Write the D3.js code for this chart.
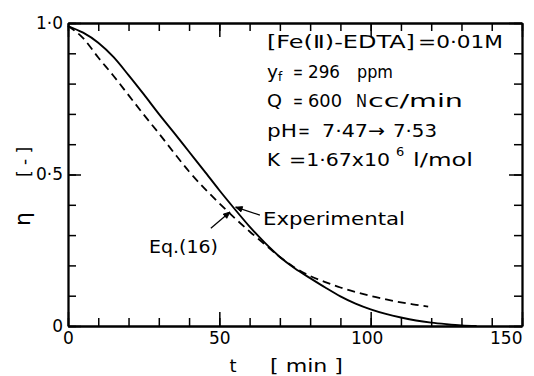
<!DOCTYPE html>
<html>
<head>
<meta charset="utf-8">
<script src="https://cdn.jsdelivr.net/npm/d3@7"></script>
<style>
  html, body { margin: 0; padding: 0; background: #fff; }
  svg { display: block; }
  text { font-family: "DejaVu Sans", sans-serif; fill: #000; }
</style>
</head>
<body>
<svg id="chart" width="534" height="376"></svg>
<script>
// Time axis [min] for the measured curve and for Eq.(16)
const expTime = [0, 5, 10, 15, 20, 25, 30, 35, 40, 45, 50, 55, 60, 65, 70, 75, 80, 85, 90, 95, 100, 105, 110, 115, 120, 125, 130, 135];
const expEta  = [0.99, 0.968, 0.935, 0.888, 0.828, 0.765, 0.70, 0.638, 0.575, 0.512, 0.448, 0.387, 0.328, 0.275, 0.228, 0.19, 0.158, 0.127, 0.098, 0.074, 0.055, 0.04, 0.028, 0.018, 0.011, 0.006, 0.002, 0.0];

const eqTime = [0, 5, 10, 15, 20, 25, 30, 35, 40, 45, 50, 55, 60, 65, 70, 75, 80, 85, 90, 95, 100, 105, 110, 115, 119];
const eqEta  = [0.99, 0.95, 0.886, 0.826, 0.762, 0.698, 0.636, 0.572, 0.51, 0.455, 0.405, 0.357, 0.312, 0.27, 0.228, 0.192, 0.165, 0.145, 0.127, 0.112, 0.099, 0.088, 0.078, 0.07, 0.064];

// Tick values and labels
const xMajor = [0, 50, 100, 150];
const xMinor = d3.range(0, 151, 10);
const yMajor = [0, 0.5, 1.0];
const yMinor = d3.range(0, 1.001, 0.1);
const yLabels = {0: "0", 0.5: "0·5", 1: "1·0"};

// Conditions printed in the upper right
const conditions = [
  [["[Fe(Ⅱ)-EDTA]", 267, 148], ["=0·01M", 418, 85]],
  [["y", 267, 11], ["f", 278, 6, "sub"], ["=", 293, 10], ["296", 308, 32], ["ppm", 357, 36]],
  [["Q", 267, 15], ["=", 293, 10], ["600", 308, 34], ["N", 356, 11], ["cc/min", 368, 95]],
  [["pH", 267, 30], ["=", 298, 12], ["7·47", 322, 46], ["→", 368, 17], ["7·53", 393, 44]],
  [["K", 267, 13], ["=1·67x10", 289, 101], ["6", 396, 10, "sup"], ["l/mol", 413, 60]]
];
const conditionBaselines = [48, 78, 107, 137, 166];

const svg = d3.select("#chart");
const x = d3.scaleLinear().domain([0, 150]).range([68, 522]);
const y = d3.scaleLinear().domain([0, 1]).range([326, 23]);

const frame = svg.append("g");

// Minor ticks on all four sides, pointing inward
function minorAxis(axisFn, scale, vals, size, transform) {
  frame.append("g").attr("transform", transform)
    .call(axisFn(scale).tickValues(vals).tickSizeInner(size).tickSizeOuter(0).tickFormat(""));
}
minorAxis(d3.axisBottom, x, xMinor, -8, `translate(0,${y(0)})`);
minorAxis(d3.axisTop, x, xMinor, -8, `translate(0,${y(1)})`);
minorAxis(d3.axisLeft, y, yMinor, -8, `translate(${x(0)},0)`);
minorAxis(d3.axisRight, y, yMinor, -8, `translate(${x(150)},0)`);

// Major ticks with labels
frame.append("g").attr("class", "xmaj").attr("transform", `translate(0,${y(0)})`)
  .call(d3.axisBottom(x).tickValues(xMajor).tickSizeInner(-14).tickSizeOuter(0).tickPadding(6).tickFormat(d3.format("d")));
frame.append("g").attr("transform", `translate(0,${y(1)})`)
  .call(d3.axisTop(x).tickValues(xMajor).tickSizeInner(-14).tickSizeOuter(0).tickFormat(""));
frame.append("g").attr("class", "ymaj").attr("transform", `translate(${x(0)},0)`)
  .call(d3.axisLeft(y).tickValues(yMajor).tickSizeInner(-13).tickSizeOuter(0).tickPadding(5).tickFormat(d => yLabels[d]));
frame.append("g").attr("transform", `translate(${x(150)},0)`)
  .call(d3.axisRight(y).tickValues(yMajor).tickSizeInner(-13).tickSizeOuter(0).tickFormat(""));

frame.selectAll(".domain").attr("stroke", "#000").attr("stroke-width", 1.8);
frame.selectAll(".tick line").attr("stroke", "#000").attr("stroke-width", 1.5);
frame.selectAll(".tick text").attr("font-family", "DejaVu Sans").attr("font-size", 17).attr("fill", "#000");
// keep the last x label inside the page, ending at the frame corner
frame.selectAll(".xmaj .tick text")
  .attr("text-anchor", d => d === 150 ? "end" : "middle")
  .attr("dx", d => d === 100 ? -4 : 0);

// Curves
const line = d3.line().x(d => x(d[0])).y(d => y(d[1])).curve(d3.curveMonotoneX);
svg.append("path")
  .datum(expTime.map((t, i) => [t, expEta[i]]))
  .attr("d", line).attr("fill", "none").attr("stroke", "#000").attr("stroke-width", 1.9);
svg.append("path")
  .datum(eqTime.map((t, i) => [t, eqEta[i]]))
  .attr("d", line).attr("fill", "none").attr("stroke", "#000").attr("stroke-width", 1.8)
  .attr("stroke-dasharray", "8,5");

// Annotation arrows (data units)
const arrows = [
  { tail: [63.4, 0.366], tip: [55.4, 0.392] },
  { tail: [47.2, 0.323], tip: [53.5, 0.376] }
];
arrows.forEach(a => {
  const x0 = x(a.tail[0]), y0 = y(a.tail[1]), x1 = x(a.tip[0]), y1 = y(a.tip[1]);
  const ang = Math.atan2(y1 - y0, x1 - x0), L = 7, spread = 0.4;
  svg.append("line").attr("x1", x0).attr("y1", y0).attr("x2", x1).attr("y2", y1)
    .attr("stroke", "#000").attr("stroke-width", 1.3);
  svg.append("path")
    .attr("d", `M${x1 - L * Math.cos(ang - spread)},${y1 - L * Math.sin(ang - spread)}L${x1},${y1}L${x1 - L * Math.cos(ang + spread)},${y1 - L * Math.sin(ang + spread)}Z`)
    .attr("fill", "#000").attr("stroke", "#000").attr("stroke-width", 1);
});

svg.append("text").attr("x", 263).attr("y", 225).attr("font-size", 18)
  .attr("textLength", 142).attr("lengthAdjust", "spacingAndGlyphs").text("Experimental");
svg.append("text").attr("x", 149).attr("y", 253).attr("font-size", 18)
  .attr("textLength", 69).attr("lengthAdjust", "spacingAndGlyphs").text("Eq.(16)");

// Conditions block
conditions.forEach((row, i) => {
  const base = conditionBaselines[i];
  row.forEach(([txt, px, w, kind]) => {
    const t = svg.append("text").attr("x", px).text(txt);
    if (kind === "sub") {
      t.attr("y", base + 3).attr("font-size", 12);
    } else if (kind === "sup") {
      t.attr("y", base - 10).attr("font-size", 13);
    } else {
      t.attr("y", base).attr("font-size", 18)
        .attr("textLength", w).attr("lengthAdjust", "spacingAndGlyphs");
    }
  });
});

// Axis titles
svg.append("text").attr("transform", "translate(30,219) rotate(-90)")
  .attr("text-anchor", "middle").attr("font-size", 22).text("η");
svg.append("text").attr("transform", "translate(30,162) rotate(-90)")
  .attr("text-anchor", "middle").attr("font-size", 17).text("[ - ]");
svg.append("text").attr("x", 233).attr("y", 372).attr("text-anchor", "middle")
  .attr("font-size", 18).text("t");
svg.append("text").attr("x", 270).attr("y", 372).attr("font-size", 18)
  .attr("textLength", 73).attr("lengthAdjust", "spacingAndGlyphs").text("[ min ]");
</script>
</body>
</html>
